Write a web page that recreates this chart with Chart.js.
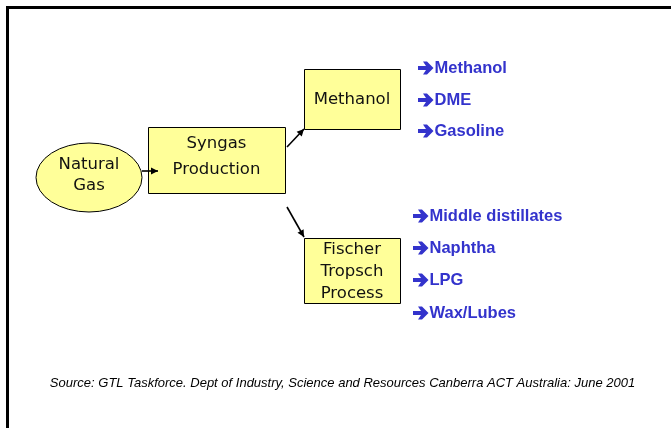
<!DOCTYPE html>
<html>
<head>
<meta charset="utf-8">
<script src="https://cdn.jsdelivr.net/npm/chart.js@4.4.0/dist/chart.umd.min.js"></script>
<style>
  html, body { margin: 0; padding: 0; background: #fff; }
  canvas { display: block; }
</style>
</head>
<body>
<canvas id="diagram" width="671" height="428"></canvas>
<script>
// process steps, centre of each node in diagram units
const nodeLabels = [['Natural', 'Gas'], ['Syngas', 'Production'], ['Methanol'], ['Fischer', 'Tropsch', 'Process']];
const nodeX = [89, 216.5, 352, 352];
const nodeY = [177.5, 160, 99, 270.5];

// links between the steps (start -> end)
const linkStartX = [142, 287, 287];
const linkStartY = [171, 147, 207];
const linkEndX = [158, 304, 304];
const linkEndY = [171, 129, 237];

// products of each route
const methanolProducts = ['Methanol', 'DME', 'Gasoline'];
const methanolProductX = [418, 418, 418];
const methanolProductY = [68, 100, 131];
const ftProducts = ['Middle distillates', 'Naphtha', 'LPG', 'Wax/Lubes'];
const ftProductX = [413, 413, 413, 413];
const ftProductY = [216, 248, 280, 313];

const sourceNote = 'Source: GTL Taskforce. Dept of Industry, Science and Resources Canberra ACT Australia: June 2001';

// node look: shape, size, line spacing, text offset
const nodeStyle = [
    { shape: 'ellipse', w: 106, h: 69, gap: 21, dy: -2.5 },
    { shape: 'box', w: 137, h: 66, gap: 26.7, dy: -3.3 },
    { shape: 'box', w: 96, h: 60, gap: 21, dy: 0.5 },
    { shape: 'box', w: 96, h: 65, gap: 21.7, dy: 1.2 }
];
const boxFill = '#ffff99';
const productColor = '#3333cc';

// heavy bullet arrow in front of each product
function bulletArrow(ctx, x, y) {
    const pts = [[0, -2], [8, -2], [5, -6.5], [9, -6.5], [15.5, 0], [9, 6.5], [5, 6.5], [8, 2], [0, 2]];
    ctx.beginPath();
    pts.forEach((p, i) => (i ? ctx.lineTo(x + p[0], y + p[1]) : ctx.moveTo(x + p[0], y + p[1])));
    ctx.closePath();
    ctx.fill();
}

const diagramPlugin = {
    id: 'diagram',
    beforeDatasetsDraw(chart) {
        const ctx = chart.ctx;
        const xs = chart.scales.x, ys = chart.scales.y;
        const unitX = xs.getPixelForValue(1) - xs.getPixelForValue(0);
        const unitY = ys.getPixelForValue(1) - ys.getPixelForValue(0);

        // slide frame (top + left edge)
        ctx.save();
        ctx.strokeStyle = '#000';
        ctx.lineWidth = 3;
        ctx.beginPath();
        ctx.moveTo(chart.width, 7.5);
        ctx.lineTo(7.5, 7.5);
        ctx.lineTo(7.5, chart.height);
        ctx.stroke();
        ctx.restore();

        // nodes
        chart.getDatasetMeta(0).data.forEach((p, i) => {
            const st = nodeStyle[i];
            const w = st.w * unitX, h = st.h * unitY;
            ctx.save();
            ctx.fillStyle = boxFill;
            ctx.strokeStyle = '#000';
            ctx.lineWidth = 1;
            ctx.beginPath();
            if (st.shape === 'ellipse') {
                ctx.ellipse(p.x, p.y, w / 2, h / 2, 0, 0, Math.PI * 2);
            } else {
                ctx.rect(Math.round(p.x - w / 2) + 0.5, Math.round(p.y - h / 2) + 0.5, Math.round(w), Math.round(h));
            }
            ctx.fill();
            ctx.stroke();
            ctx.fillStyle = '#111';
            ctx.font = '16.5px "DejaVu Sans", sans-serif';
            ctx.textAlign = 'center';
            ctx.textBaseline = 'middle';
            const lines = nodeLabels[i];
            const top = p.y + st.dy - (lines.length - 1) * st.gap / 2;
            lines.forEach((t, k) => ctx.fillText(t, p.x, top + k * st.gap));
            ctx.restore();
        });
    },
    afterDatasetsDraw(chart) {
        const ctx = chart.ctx;
        const xs = chart.scales.x, ys = chart.scales.y;

        // arrow heads on the links
        chart.data.datasets.forEach((ds, i) => {
            if (ds.role !== 'link') return;
            const pts = chart.getDatasetMeta(i).data;
            const a = pts[0], b = pts[1];
            const ang = Math.atan2(b.y - a.y, b.x - a.x);
            const len = 7, half = 3.5;
            ctx.save();
            ctx.fillStyle = '#000';
            ctx.translate(b.x, b.y);
            ctx.rotate(ang);
            ctx.beginPath();
            ctx.moveTo(0, 0);
            ctx.lineTo(-len, -half);
            ctx.lineTo(-len, half);
            ctx.closePath();
            ctx.fill();
            ctx.restore();
        });

        // product lists
        ctx.save();
        ctx.fillStyle = productColor;
        ctx.textBaseline = 'middle';
        ctx.textAlign = 'left';
        ctx.font = 'bold 16.5px "Liberation Sans", Arial, sans-serif';
        chart.data.datasets.forEach((ds, i) => {
            if (ds.role !== 'products') return;
            chart.getDatasetMeta(i).data.forEach((p, k) => {
                bulletArrow(ctx, p.x, p.y);
                ctx.fillText(ds.names[k], p.x + 16.5, p.y + 0.5);
            });
        });
        ctx.restore();

        // source line
        ctx.save();
        ctx.fillStyle = '#000';
        ctx.font = 'italic 13px "Liberation Sans", Arial, sans-serif';
        ctx.textAlign = 'center';
        ctx.textBaseline = 'alphabetic';
        ctx.fillText(sourceNote, xs.getPixelForValue(342.5), ys.getPixelForValue(387));
        ctx.restore();
    }
};

const datasets = [
    {
        role: 'nodes',
        data: nodeX.map((x, i) => ({ x: x, y: nodeY[i] })),
        pointRadius: 0,
        showLine: false
    }
];
linkStartX.forEach((x, i) => {
    datasets.push({
        role: 'link',
        data: [{ x: x, y: linkStartY[i] }, { x: linkEndX[i], y: linkEndY[i] }],
        showLine: true,
        borderColor: '#000',
        borderWidth: 1.6,
        pointRadius: 0
    });
});
datasets.push({
    role: 'products',
    names: methanolProducts,
    data: methanolProductX.map((x, i) => ({ x: x, y: methanolProductY[i] })),
    pointRadius: 0
});
datasets.push({
    role: 'products',
    names: ftProducts,
    data: ftProductX.map((x, i) => ({ x: x, y: ftProductY[i] })),
    pointRadius: 0
});

new Chart(document.getElementById('diagram'), {
    type: 'scatter',
    data: { datasets: datasets },
    options: {
        responsive: false,
        animation: false,
        layout: { padding: 0 },
        plugins: { legend: { display: false }, tooltip: { enabled: false } },
        scales: {
            x: { type: 'linear', min: 0, max: 671, display: false },
            y: { type: 'linear', min: 0, max: 428, reverse: true, display: false }
        }
    },
    plugins: [diagramPlugin]
});
</script>
</body>
</html>
